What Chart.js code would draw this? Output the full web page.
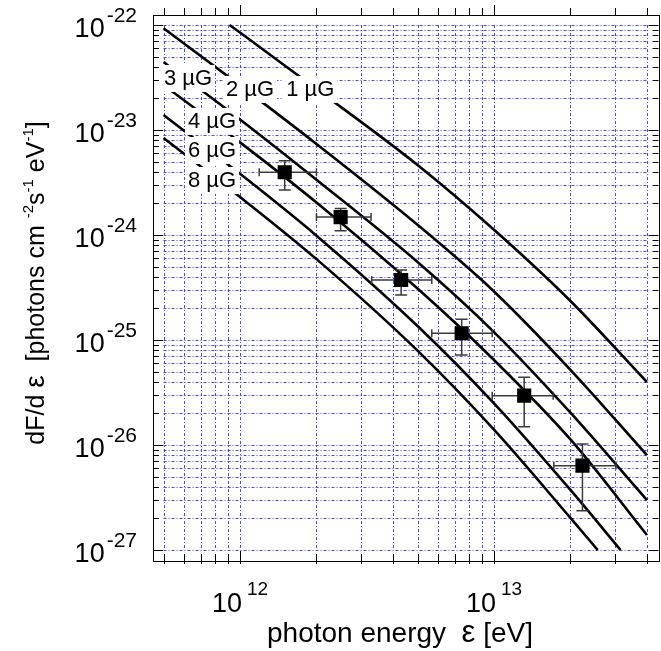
<!DOCTYPE html>
<html>
<head>
<meta charset="utf-8">
<script src="https://cdn.jsdelivr.net/npm/chart.js@4"></script>
<style>
  html, body { margin: 0; padding: 0; background: #fff; }
</style>
</head>
<body>
<canvas id="chart" width="661" height="651"></canvas>
<script>
// Model curves (inverse Compton spectra for different magnetic fields)
const curveNames = ['1 µG', '2 µG', '3 µG', '4 µG', '6 µG', '8 µG'];
const energy1uG = [9.1e11, 1e12, 2e12, 5e12, 1e13, 2e13, 4e13];
const flux1uG = [1.0e-22, 8.48e-23, 2.46e-23, 4.64e-24, 1.12e-24, 2.35e-25, 3.98e-26];
const energy2uG = [5e11, 1e12, 2e12, 5e12, 1e13, 2e13, 4e13];
const flux2uG = [9.3e-23, 2.66e-23, 7.36e-24, 1.25e-24, 2.9e-25, 5.2e-26, 8.0e-27];
const energy3uG = [5e11, 1e12, 2e12, 5e12, 1e13, 2e13, 4e13];
const flux3uG = [4.44e-23, 1.26e-23, 3.36e-24, 5.53e-25, 1.19e-25, 2.03e-26, 2.99e-27];
const energy4uG = [5e11, 1e12, 2e12, 5e12, 1e13, 2e13, 4e13];
const flux4uG = [2.68e-23, 7.62e-24, 2.04e-24, 3.09e-25, 6.45e-26, 1.13e-26, 1.39e-27];
const energy6uG = [5e11, 1e12, 2e12, 5e12, 1e13, 2e13, 3.15e13];
const flux6uG = [1.39e-23, 3.83e-24, 9.86e-25, 1.36e-25, 2.49e-26, 3.73e-27, 1.0e-27];
const energy8uG = [5e11, 1e12, 2e12, 5e12, 1e13, 2e13, 2.56e13];
const flux8uG = [8.4e-24, 2.3e-24, 5.89e-25, 7.92e-26, 1.4e-26, 2.02e-27, 1.0e-27];

// Curve label anchors (data coordinates)
const labelEnergy = [1.89e12, 1.095e12, 6.24e11, 7.76e11, 7.76e11, 7.76e11];
const labelFlux = [2.46e-23, 2.46e-23, 3.13e-23, 1.22e-23, 6.45e-24, 3.34e-24];

// Measured points with error bars
const obsEnergy = [1.50e12, 2.49e12, 4.31e12, 7.46e12, 1.315e13, 2.23e13];
const obsEnergyLo = [1.19e12, 2.0e12, 3.3e12, 5.69e12, 9.84e12, 1.72e13];
const obsEnergyHi = [2.0e12, 3.28e12, 5.69e12, 9.84e12, 1.71e13, 3.02e13];
const obsFlux = [3.96e-24, 1.48e-24, 3.73e-25, 1.16e-25, 2.95e-26, 6.36e-27];
const obsFluxLo = [2.68e-24, 1.10e-24, 2.68e-25, 7.2e-26, 1.49e-26, 2.37e-27];
const obsFluxHi = [5.1e-24, 1.79e-24, 4.64e-25, 1.58e-25, 4.42e-26, 1.02e-26];

// Axes
const xDecades = [1e11, 1e12, 1e13];
const yDecades = [1e-27, 1e-26, 1e-25, 1e-24, 1e-23];
const xGridMin = 5e11, xGridMax = 4e13;
const yGridMin = 1e-27, yGridMax = 1e-22;
const xMajorTicks = [1e12, 1e13];
const xTickExp = ['12', '13'];
const yMajorTicks = [1e-22, 1e-23, 1e-24, 1e-25, 1e-26, 1e-27];
const yTickExp = ['-22', '-23', '-24', '-25', '-26', '-27'];

const FONT = '"Liberation Sans", Arial, sans-serif';
const GRID = 'rgb(72,72,232)';

const xTicks = [];
xDecades.forEach(d => { for (let m = 1; m <= 9; m++) { const v = d * m; if (v >= xGridMin * 0.999 && v <= xGridMax * 1.001) xTicks.push(v); } });
const yTicks = [];
yDecades.forEach(d => { for (let m = 1; m <= 9; m++) yTicks.push(d * m); });
yTicks.push(1e-22);

const toPts = (xs, ys) => xs.map((x, i) => ({ x, y: ys[i] }));
const curves = [
  toPts(energy1uG, flux1uG), toPts(energy2uG, flux2uG), toPts(energy3uG, flux3uG),
  toPts(energy4uG, flux4uG), toPts(energy6uG, flux6uG), toPts(energy8uG, flux8uG)
];

const isMajor = v => Math.abs(Math.log10(v) - Math.round(Math.log10(v))) < 1e-6;

function richWidth(ctx, parts) {
  let w = 0;
  parts.forEach(p => { ctx.font = p.size + 'px ' + FONT; w += ctx.measureText(p.t).width + (p.gap || 0); });
  return w;
}
function drawRich(ctx, parts, x, y) {
  let cx = x;
  parts.forEach(p => {
    ctx.font = p.size + 'px ' + FONT;
    cx += p.gap || 0;
    ctx.fillText(p.t, cx, y - (p.rise || 0));
    cx += ctx.measureText(p.t).width;
  });
}

const gridPlugin = {
  id: 'gridPlugin',
  beforeDatasetsDraw(chart) {
    const { ctx, scales: { x, y } } = chart;
    const top = y.getPixelForValue(yGridMax), bot = y.getPixelForValue(yGridMin);
    const left = x.getPixelForValue(xGridMin), right = x.getPixelForValue(xGridMax);
    ctx.save();
    ctx.strokeStyle = GRID;
    ctx.lineWidth = 1;
    ctx.setLineDash([3, 2, 1, 2]);
    xTicks.forEach(v => {
      const p = Math.round(x.getPixelForValue(v)) + 0.5;
      ctx.beginPath(); ctx.moveTo(p, top); ctx.lineTo(p, bot); ctx.stroke();
    });
    yTicks.forEach(v => {
      const p = Math.round(y.getPixelForValue(v)) + 0.5;
      ctx.beginPath(); ctx.moveTo(left, p); ctx.lineTo(right, p); ctx.stroke();
    });
    ctx.restore();
  }
};

const errorBarPlugin = {
  id: 'errorBars',
  beforeDatasetDraw(chart, args) {
    if (args.index !== 0) return;
    const { ctx, scales: { x, y } } = chart;
    ctx.save();
    ctx.strokeStyle = '#3a3a3a';
    ctx.lineWidth = 1.5;
    obsEnergy.forEach((e, i) => {
      const cx = x.getPixelForValue(e), cy = y.getPixelForValue(obsFlux[i]);
      const x0 = x.getPixelForValue(obsEnergyLo[i]), x1 = x.getPixelForValue(obsEnergyHi[i]);
      const y0 = y.getPixelForValue(obsFluxHi[i]), y1 = y.getPixelForValue(obsFluxLo[i]);
      ctx.beginPath();
      ctx.moveTo(x0, cy); ctx.lineTo(x1, cy);
      ctx.moveTo(x0, cy - 4); ctx.lineTo(x0, cy + 4);
      ctx.moveTo(x1, cy - 4); ctx.lineTo(x1, cy + 4);
      ctx.moveTo(cx, y0); ctx.lineTo(cx, y1);
      ctx.moveTo(cx - 6, y0); ctx.lineTo(cx + 6, y0);
      ctx.moveTo(cx - 6, y1); ctx.lineTo(cx + 6, y1);
      ctx.stroke();
    });
    ctx.restore();
  }
};

const decorPlugin = {
  id: 'decor',
  afterDatasetsDraw(chart) {
    const { ctx, chartArea: a, scales: { x, y } } = chart;
    ctx.save();

    // curve labels on white boxes
    ctx.textAlign = 'center';
    ctx.textBaseline = 'middle';
    ctx.font = '22px ' + FONT;
    curveNames.forEach((name, i) => {
      const px = x.getPixelForValue(labelEnergy[i]), py = y.getPixelForValue(labelFlux[i]);
      const w = ctx.measureText(name).width;
      ctx.fillStyle = '#fff';
      ctx.fillRect(px - w / 2 - 3, py - 13, w + 6, 27);
      ctx.fillStyle = '#000';
      ctx.fillText(name, px, py + 1);
    });

    // frame
    ctx.strokeStyle = '#000';
    ctx.lineWidth = 1;
    ctx.strokeRect(Math.round(a.left) + 0.5, Math.round(a.top) + 0.5,
      Math.round(a.right - a.left), Math.round(a.bottom - a.top));

    // ticks
    ctx.beginPath();
    xTicks.forEach(v => {
      const p = Math.round(x.getPixelForValue(v)) + 0.5;
      const len = isMajor(v) ? 10 : 7;
      ctx.moveTo(p, a.bottom + 3); ctx.lineTo(p, a.bottom - len);
      ctx.moveTo(p, a.top); ctx.lineTo(p, a.top - len);
    });
    yTicks.forEach(v => {
      const p = Math.round(y.getPixelForValue(v)) + 0.5;
      const len = isMajor(v) ? 10 : 6;
      ctx.moveTo(a.left, p); ctx.lineTo(a.left + len, p);
      ctx.moveTo(a.right, p); ctx.lineTo(a.right - len, p);
    });
    ctx.stroke();

    // tick labels
    ctx.fillStyle = '#000';
    ctx.textAlign = 'left';
    ctx.textBaseline = 'alphabetic';
    xMajorTicks.forEach((v, i) => {
      const parts = [{ t: '10', size: 27 }, { t: xTickExp[i], size: 19, rise: 17, gap: 5 }];
      const w = richWidth(ctx, parts);
      drawRich(ctx, parts, x.getPixelForValue(v) - w / 2, 612);
    });
    yMajorTicks.forEach((v, i) => {
      const parts = [{ t: '10', size: 27 }, { t: yTickExp[i], size: 21, rise: 15, gap: 2 }];
      const w = richWidth(ctx, parts);
      drawRich(ctx, parts, 137 - w, y.getPixelForValue(v) + 12);
    });

    // axis titles
    const xTitle = [{ t: 'photon energy  ', size: 28 }, { t: 'ε', size: 31 }, { t: ' [eV]', size: 28 }];
    const xw = richWidth(ctx, xTitle);
    drawRich(ctx, xTitle, 400 - xw / 2, 642);

    const yTitle = [
      { t: 'dF/d ', size: 25 }, { t: 'ε', size: 28 }, { t: '  [photons cm ', size: 25 },
      { t: '-2', size: 15, rise: 11 }, { t: 's', size: 25 }, { t: '-1', size: 15, rise: 11 },
      { t: ' eV', size: 25 }, { t: '-1', size: 15, rise: 11 }, { t: ']', size: 25 }
    ];
    const yw = richWidth(ctx, yTitle);
    ctx.translate(44, 283);
    ctx.rotate(-Math.PI / 2);
    drawRich(ctx, yTitle, -yw / 2, 0);
    ctx.restore();
  }
};

const curveDatasets = curves.map((pts, i) => ({
  label: curveNames[i],
  data: pts,
  showLine: true,
  borderColor: '#000',
  borderWidth: 2.6,
  pointRadius: 0,
  cubicInterpolationMode: 'monotone',
  fill: false
}));

new Chart(document.getElementById('chart'), {
  type: 'scatter',
  data: {
    datasets: [{
      label: 'data',
      data: toPts(obsEnergy, obsFlux),
      pointStyle: 'rect',
      pointRadius: 10,
      pointHoverRadius: 10,
      backgroundColor: '#000',
      borderColor: '#000',
      borderWidth: 0
    }, ...curveDatasets]
  },
  options: {
    responsive: false,
    devicePixelRatio: 1,
    animation: false,
    layout: { autoPadding: false, padding: { left: 153, top: 15, right: 2.5, bottom: 90 } },
    plugins: { legend: { display: false }, tooltip: { enabled: false } },
    scales: {
      x: {
        type: 'logarithmic', display: false, bounds: 'data',
        min: Math.pow(10, 11.6575), max: Math.pow(10, 13.6477)
      },
      y: {
        type: 'logarithmic', display: false, bounds: 'data',
        min: Math.pow(10, -27.1048), max: Math.pow(10, -21.9048)
      }
    }
  },
  plugins: [gridPlugin, errorBarPlugin, decorPlugin]
});
</script>
</body>
</html>
